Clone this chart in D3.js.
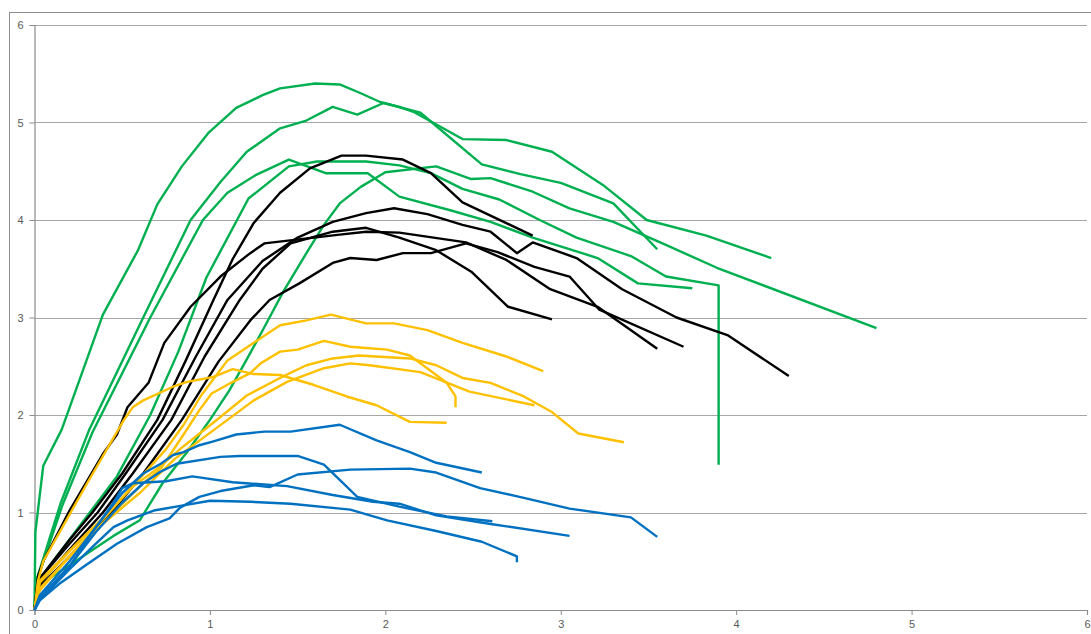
<!DOCTYPE html>
<html><head><meta charset="utf-8">
<script src="https://cdn.jsdelivr.net/npm/d3@7"></script>
<style>body{margin:0;background:#fff}svg{display:block}</style>
</head><body>
<svg id="c" width="1091" height="634"></svg>
<script>
const xTicks = [0,1,2,3,4,5,6];
const yTicks = [0,1,2,3,4,5,6];

// Green series
const green1 = [[0,0],[0.005,0.8],[0.05,1.48],[0.155,1.85],[0.39,3.03],[0.59,3.69],[0.70,4.16],[0.84,4.55],[0.99,4.89],[1.15,5.15],[1.30,5.28],[1.40,5.35],[1.60,5.40],[1.74,5.39],[1.86,5.30],[1.97,5.21],[2.08,5.16],[2.16,5.11],[2.44,4.83],[2.69,4.82],[2.95,4.70],[3.24,4.36],[3.49,4.00],[3.83,3.84],[4.20,3.61]];
const green2 = [[0,0],[0.01,0.3],[0.15,1.1],[0.31,1.84],[0.62,3.0],[0.89,4.0],[1.06,4.39],[1.21,4.70],[1.40,4.94],[1.55,5.02],[1.70,5.16],[1.84,5.08],[1.99,5.20],[2.20,5.10],[2.55,4.57],[2.77,4.47],[3.0,4.38],[3.30,4.17],[3.55,3.70]];
const green3 = [[0,0],[0.01,0.28],[0.16,1.08],[0.33,1.82],[0.66,3.0],[0.96,4.0],[1.10,4.28],[1.26,4.46],[1.45,4.62],[1.66,4.48],[1.90,4.48],[2.08,4.24],[2.37,4.10],[2.60,3.98],[2.84,3.82],[3.21,3.61],[3.44,3.35],[3.75,3.30]];
const green4 = [[0,0],[0.01,0.27],[0.24,0.82],[0.47,1.37],[0.66,2.0],[0.82,2.65],[0.98,3.41],[1.22,4.22],[1.45,4.55],[1.61,4.60],[1.89,4.60],[2.08,4.56],[2.26,4.48],[2.44,4.32],[2.65,4.21],[2.88,4.0],[3.09,3.82],[3.40,3.63],[3.60,3.42],[3.90,3.33],[3.90,1.49]];
const green5 = [[0,0],[0.02,0.25],[0.15,0.40],[0.3,0.58],[0.45,0.76],[0.60,0.92],[0.73,1.3],[0.87,1.62],[1.0,1.95],[1.11,2.25],[1.21,2.57],[1.31,2.9],[1.42,3.27],[1.55,3.66],[1.65,3.95],[1.74,4.17],[1.86,4.34],[2.0,4.49],[2.29,4.55],[2.49,4.42],[2.60,4.43],[2.84,4.29],[3.05,4.12],[3.30,3.98],[3.58,3.76],[3.89,3.51],[4.80,2.89]];

// Black series
const black1 = [[0,0],[0.02,0.3],[0.2,0.72],[0.33,1.0],[0.5,1.4],[0.70,1.95],[0.86,2.55],[1.02,3.18],[1.13,3.6],[1.25,3.97],[1.40,4.28],[1.57,4.53],[1.75,4.66],[1.89,4.66],[2.10,4.62],[2.26,4.48],[2.44,4.18],[2.84,3.84]];
const black2 = [[0,0],[0.02,0.3],[0.2,0.68],[0.36,1.0],[0.52,1.4],[0.73,1.95],[0.92,2.6],[1.10,3.18],[1.3,3.58],[1.5,3.82],[1.70,3.98],[1.89,4.07],[2.05,4.12],[2.24,4.06],[2.44,3.95],[2.60,3.88],[2.75,3.66],[2.84,3.77],[3.09,3.61],[3.35,3.29],[3.66,3.0],[3.95,2.82],[4.30,2.40]];
const black3 = [[0,0],[0.02,0.25],[0.2,0.62],[0.39,1.0],[0.56,1.4],[0.78,1.95],[0.97,2.6],[1.17,3.18],[1.3,3.5],[1.46,3.76],[1.7,3.88],[1.89,3.92],[2.08,3.82],[2.29,3.69],[2.49,3.47],[2.70,3.11],[2.95,2.98]];
const black4 = [[0,0],[0.02,0.22],[0.2,0.55],[0.44,1.0],[0.62,1.4],[0.84,1.95],[1.05,2.55],[1.23,2.97],[1.34,3.18],[1.51,3.35],[1.70,3.56],[1.80,3.61],[1.95,3.59],[2.10,3.66],[2.26,3.66],[2.46,3.76],[2.64,3.67],[2.85,3.52],[3.05,3.42],[3.22,3.08],[3.70,2.70]];
const black5 = [[0,0],[0.02,0.35],[0.05,0.5],[0.2,1.02],[0.39,1.6],[0.47,1.8],[0.53,2.08],[0.65,2.33],[0.74,2.74],[0.89,3.11],[1.06,3.42],[1.23,3.66],[1.31,3.76],[1.74,3.85],[1.89,3.88],[2.08,3.87],[2.46,3.77],[2.69,3.59],[2.94,3.29],[3.21,3.11],[3.55,2.68]];

// Yellow series
const yellow1 = [[0,0],[0.03,0.3],[0.25,0.7],[0.45,1.05],[0.6,1.35],[0.75,1.65],[0.85,1.9],[0.95,2.2],[1.10,2.56],[1.25,2.74],[1.40,2.92],[1.55,2.97],[1.69,3.03],[1.89,2.94],[2.05,2.94],[2.24,2.87],[2.44,2.74],[2.69,2.60],[2.90,2.45]];
const yellow2 = [[0,0],[0.02,0.3],[0.05,0.5],[0.3,1.3],[0.51,1.95],[0.56,2.08],[0.62,2.15],[0.79,2.29],[0.87,2.34],[1.02,2.39],[1.13,2.47],[1.25,2.42],[1.40,2.41],[1.59,2.31],[1.78,2.19],[1.95,2.10],[2.14,1.93],[2.35,1.92]];
const yellow3 = [[0,0],[0.03,0.2],[0.25,0.65],[0.45,1.0],[0.62,1.3],[0.72,1.45],[0.85,1.8],[0.94,2.05],[1.01,2.22],[1.12,2.33],[1.23,2.43],[1.29,2.53],[1.40,2.65],[1.50,2.67],[1.65,2.76],[1.80,2.70],[2.01,2.67],[2.14,2.61],[2.35,2.33],[2.40,2.19],[2.40,2.08]];
const yellow4 = [[0,0],[0.03,0.28],[0.2,0.6],[0.4,0.95],[0.55,1.25],[0.7,1.45],[0.85,1.68],[1.06,1.98],[1.21,2.2],[1.40,2.38],[1.55,2.51],[1.70,2.58],[1.85,2.61],[2.14,2.58],[2.29,2.51],[2.44,2.38],[2.60,2.33],[2.79,2.19],[2.95,2.03],[3.10,1.81],[3.36,1.72]];
const yellow5 = [[0,0],[0.03,0.22],[0.2,0.55],[0.4,0.9],[0.6,1.2],[0.8,1.55],[1.10,1.95],[1.25,2.15],[1.44,2.34],[1.65,2.48],[1.80,2.53],[1.91,2.51],[2.20,2.44],[2.48,2.24],[2.85,2.10]];

// Blue series
const blue1 = [[0,0],[0.03,0.15],[0.2,0.5],[0.35,0.85],[0.5,1.2],[0.62,1.4],[0.72,1.5],[0.79,1.59],[0.85,1.62],[0.94,1.69],[1.02,1.73],[1.15,1.80],[1.31,1.83],[1.46,1.83],[1.74,1.90],[1.95,1.74],[2.14,1.62],[2.29,1.51],[2.55,1.41]];
const blue2 = [[0,0],[0.03,0.12],[0.2,0.45],[0.35,0.8],[0.5,1.1],[0.62,1.3],[0.72,1.42],[0.81,1.50],[1.06,1.57],[1.17,1.58],[1.50,1.58],[1.65,1.49],[1.84,1.16],[2.08,1.06],[2.35,0.96],[2.61,0.91]];
const blue3 = [[0,0],[0.03,0.1],[0.15,0.28],[0.30,0.47],[0.47,0.68],[0.64,0.85],[0.77,0.94],[0.83,1.05],[0.94,1.16],[1.06,1.22],[1.25,1.28],[1.34,1.26],[1.50,1.39],[1.80,1.44],[2.14,1.45],[2.29,1.41],[2.54,1.25],[2.79,1.15],[3.05,1.04],[3.40,0.95],[3.55,0.75]];
const blue4 = [[0,0],[0.03,0.12],[0.2,0.45],[0.35,0.85],[0.45,1.1],[0.5,1.25],[0.56,1.30],[0.75,1.32],[0.90,1.37],[1.13,1.31],[1.44,1.27],[1.70,1.18],[1.93,1.11],[2.08,1.09],[2.29,0.97],[2.61,0.88],[3.05,0.76]];
const blue5 = [[0,0],[0.03,0.1],[0.2,0.42],[0.35,0.68],[0.45,0.85],[0.53,0.92],[0.68,1.02],[0.84,1.07],[1.0,1.12],[1.23,1.11],[1.46,1.09],[1.80,1.03],[2.01,0.92],[2.29,0.81],[2.55,0.70],[2.75,0.55],[2.75,0.49]];

const groups = [
  {color:"#00b050", series:[green1,green2,green3,green4,green5]},
  {color:"#000000", series:[black1,black2,black3,black4,black5]},
  {color:"#ffc000", series:[yellow1,yellow2,yellow3,yellow4,yellow5]},
  {color:"#0070c0", series:[blue1,blue2,blue3,blue4,blue5]}
];

const svg = d3.select("#c");
const x = d3.scaleLinear().domain([0,6]).range([34.5,1087]);
const y = d3.scaleLinear().domain([0,6]).range([610,25]);

// outer chart border
svg.append("rect").attr("x",9.5).attr("y",12.5).attr("width",1100).attr("height",640)
  .attr("fill","none").attr("stroke","#8c8c8c").attr("stroke-width",1);

// gridlines
svg.append("g").selectAll("line").data(yTicks.filter(d=>d>0)).join("line")
  .attr("x1",x(0)).attr("x2",x(6)).attr("y1",d=>Math.round(y(d))+0.5).attr("y2",d=>Math.round(y(d))+0.5)
  .attr("stroke","#a6a6a6").attr("stroke-width",1.2);

// axes
const font = "'Liberation Sans', Arial, sans-serif";
const yAxis = svg.append("g").attr("transform",`translate(${x(0)},0)`)
  .call(d3.axisLeft(y).tickValues(yTicks).tickSize(5).tickPadding(6).tickFormat(d3.format("d")));
const xAxis = svg.append("g").attr("transform",`translate(0,${y(0)})`)
  .call(d3.axisBottom(x).tickValues(xTicks).tickSize(5).tickPadding(5).tickFormat(d3.format("d")));
[yAxis,xAxis].forEach(a=>{
  a.select(".domain").attr("stroke","#8c8c8c").attr("stroke-width",1.2);
  a.selectAll(".tick line").attr("stroke","#8c8c8c");
  a.selectAll("text").attr("fill","#595959").style("font-family",font).style("font-size","11px");
});

// lines
const line = d3.line().x(d=>x(d[0])).y(d=>y(d[1]));
groups.forEach(g=>{
  svg.append("g").selectAll("path").data(g.series).join("path")
    .attr("d",line).attr("fill","none").attr("stroke",g.color)
    .attr("stroke-width",2.4).attr("stroke-linejoin","round").attr("stroke-linecap","butt");
});
</script>
</body></html>
